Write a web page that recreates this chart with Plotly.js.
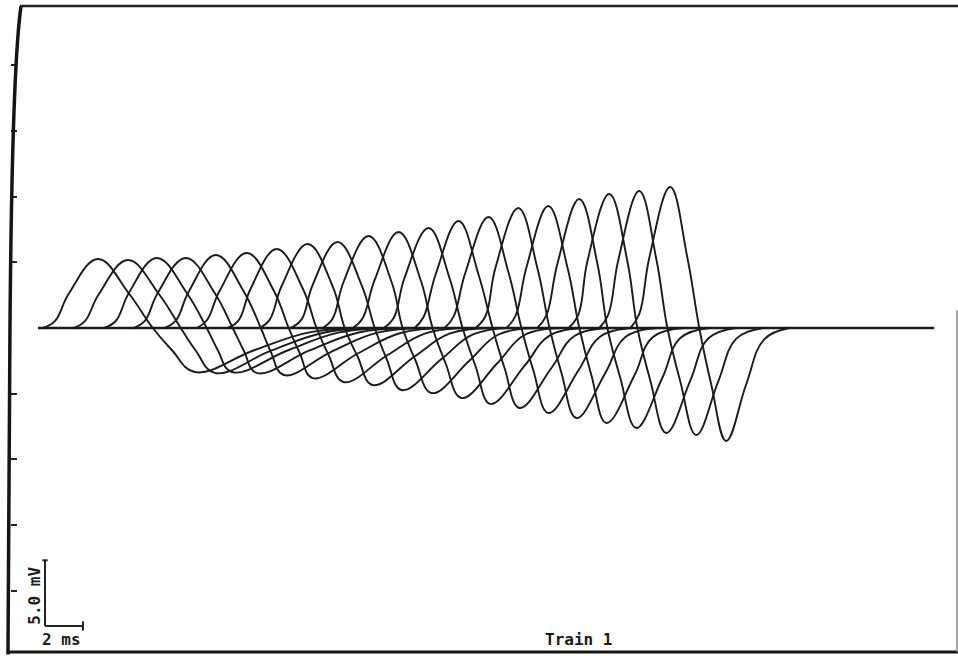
<!DOCTYPE html>
<html>
<head>
<meta charset="utf-8">
<script src="https://cdn.plot.ly/plotly-3.0.1.min.js"></script>
<style>
  html, body { margin: 0; padding: 0; background: #ffffff; }
  #chart { width: 958px; height: 656px; }
</style>
</head>
<body>
<div id="chart"></div>
<script>
// Train 1: twenty successive compound responses (time in ms, voltage in mV).
// Each response is described by its landmark times and amplitudes.

// sweep extent of the recording baseline
const sweepStart = 1.37;
const sweepEnd = 48.58;

// positive phase
const footTime   = [1.63, 3.26, 4.84, 6.42, 8.05, 9.74, 11.37, 13.05, 14.68, 16.37, 17.95, 19.58, 21.21, 22.79, 24.42, 26.05, 27.68, 29.32, 30.95, 32.58];
const rise10Time = [2.26, 3.84, 5.47, 7.00, 8.63, 10.26, 11.95, 13.58, 15.26, 16.89, 18.47, 20.11, 21.68, 23.26, 24.95, 26.53, 28.16, 29.84, 31.42, 33.05];
const rise50Time = [3.00, 4.58, 6.16, 7.68, 9.32, 10.95, 12.58, 14.21, 15.84, 17.47, 19.11, 20.68, 22.32, 23.89, 25.47, 27.11, 28.74, 30.32, 31.95, 33.58];
const peakTime   = [4.53, 6.11, 7.63, 9.16, 10.74, 12.37, 13.95, 15.58, 17.16, 18.79, 20.37, 21.95, 23.53, 25.11, 26.68, 28.26, 29.89, 31.47, 33.05, 34.68];
const peakMv     = [5.25, 5.17, 5.33, 5.33, 5.56, 5.71, 6.01, 6.39, 6.54, 7.00, 7.31, 7.61, 8.14, 8.45, 9.13, 9.28, 9.82, 10.20, 10.43, 10.73];
const fall50Time = [6.16, 7.74, 9.21, 10.68, 12.21, 13.79, 15.32, 16.89, 18.42, 20.00, 21.53, 23.05, 24.58, 26.16, 27.68, 29.26, 30.84, 32.42, 33.95, 35.58];

// crossing into the negative phase
const zeroTime   = [7.42, 8.89, 10.26, 11.63, 13.11, 14.58, 16.05, 17.53, 19.11, 20.58, 22.16, 23.74, 25.32, 26.84, 28.32, 29.89, 31.37, 32.95, 34.53, 36.21];

// negative phase
const desc50Time = [8.42, 9.68, 10.84, 12.21, 13.63, 15.16, 16.68, 18.21, 19.74, 21.26, 22.84, 24.42, 25.95, 27.47, 28.95, 30.53, 32.05, 33.63, 35.21, 36.84];
const troughTime = [9.63, 10.68, 11.58, 12.89, 14.32, 15.84, 17.47, 19.00, 20.53, 22.11, 23.68, 25.21, 26.74, 28.26, 29.74, 31.32, 32.89, 34.47, 36.05, 37.63];
const troughMv   = [-3.35, -3.42, -3.35, -3.42, -3.58, -3.81, -4.11, -4.34, -4.72, -4.95, -5.33, -5.78, -6.09, -6.47, -6.85, -7.23, -7.61, -7.99, -8.14, -8.60];
const rec50Time  = [12.79, 13.68, 14.58, 15.68, 16.84, 18.26, 19.79, 21.21, 22.63, 24.11, 25.58, 27.00, 28.42, 29.84, 31.26, 32.79, 34.26, 35.74, 37.21, 38.68];
const rec90Time  = [15.68, 16.47, 17.26, 18.26, 19.26, 20.47, 21.79, 23.05, 24.32, 25.63, 27.00, 28.32, 29.63, 31.00, 32.32, 33.74, 35.21, 36.68, 38.16, 39.63];
const endTime    = [18.84, 19.53, 20.16, 20.89, 21.79, 22.95, 24.21, 25.32, 26.53, 27.79, 29.05, 30.26, 31.53, 32.79, 34.05, 35.42, 36.79, 38.16, 39.58, 40.95];

// calibration bar
const scaleMs = 2;
const scaleMv = 5.0;

const ink = '#1b1b1b';
const traces = [];

// shared baseline of the sweep
traces.push({
  x: [sweepStart, sweepEnd],
  y: [0, 0],
  mode: 'lines',
  line: { color: ink, width: 2.4 },
  hoverinfo: 'skip'
});

for (let i = 0; i < peakTime.length; i++) {
  const p = peakMv[i];
  const n = troughMv[i];
  traces.push({
    x: [footTime[i], rise10Time[i], rise50Time[i], peakTime[i], fall50Time[i], zeroTime[i],
        desc50Time[i], troughTime[i], rec50Time[i], rec90Time[i], endTime[i]],
    y: [0, 0.1 * p, 0.5 * p, p, 0.5 * p, 0,
        0.5 * n, n, 0.5 * n, 0.1 * n, 0],
    mode: 'lines',
    line: { color: ink, width: 1.9, shape: 'spline', smoothing: 1.15 },
    hoverinfo: 'skip'
  });
}

// calibration bar corner
const barT = 1.74;
const barV = -22.68;

const shapes = [
  // chart frame
  { type: 'path', xref: 'paper', yref: 'paper',
    path: 'M -0.0032,-0.004 L -0.0011,0.4992 Q 0.0011,0.905 0.0106,1.0016',
    line: { color: '#151515', width: 3.5 } },
  { type: 'line', xref: 'paper', yref: 'paper', x0: 0.0095, x1: 1.0, y0: 1.0016, y1: 1.0016,
    line: { color: '#222', width: 2.5 } },
  { type: 'line', xref: 'paper', yref: 'paper', x0: -0.0042, x1: 1.0, y0: 0, y1: 0,
    line: { color: '#151515', width: 3 } },
  { type: 'line', xref: 'paper', yref: 'paper', x0: 0.9989, x1: 0.9989, y0: 0.53, y1: 0,
    line: { color: '#8a8a8a', width: 1.5 } },
  // calibration bar
  { type: 'line', xref: 'x', yref: 'y', x0: barT, x1: barT, y0: barV, y1: barV + scaleMv,
    line: { color: '#222', width: 2 } },
  { type: 'line', xref: 'x', yref: 'y', x0: barT - 0.14, x1: barT + 0.14, y0: barV + scaleMv, y1: barV + scaleMv,
    line: { color: '#222', width: 2 } },
  { type: 'line', xref: 'x', yref: 'y', x0: barT, x1: barT + scaleMs, y0: barV, y1: barV,
    line: { color: '#222', width: 2 } },
  { type: 'line', xref: 'x', yref: 'y', x0: barT + scaleMs, x1: barT + scaleMs, y0: barV - 0.35, y1: barV + 0.35,
    line: { color: '#222', width: 2 } }
];

const labelFont = { family: 'DejaVu Sans Mono, monospace', size: 16, color: '#1a1a1a', weight: 'bold' };

const annotations = [
  { x: barT - 0.53, y: barV + scaleMv / 2 - 0.2, xref: 'x', yref: 'y', text: scaleMv.toFixed(1) + ' mV',
    textangle: -90, showarrow: false, font: labelFont, xanchor: 'center', yanchor: 'middle' },
  { x: barT + 0.89, y: -23.74, xref: 'x', yref: 'y', text: scaleMs + ' ms',
    showarrow: false, font: labelFont, xanchor: 'center', yanchor: 'middle' },
  { x: 29.84, y: -23.74, xref: 'x', yref: 'y', text: 'Train 1',
    showarrow: false, font: labelFont, xanchor: 'center', yanchor: 'middle' }
];

const layout = {
  width: 958,
  height: 656,
  margin: { l: 11, r: 0, t: 7, b: 4 },
  paper_bgcolor: '#ffffff',
  plot_bgcolor: '#ffffff',
  showlegend: false,
  xaxis: {
    range: [-0.05, 49.84],
    showgrid: false, zeroline: false, showline: false,
    showticklabels: false, ticks: ''
  },
  yaxis: {
    range: [-24.66, 24.43],
    tickvals: [-20, -15, -10, -5, 5, 10, 15, 20],
    ticks: 'inside', ticklen: 6, tickwidth: 2, tickcolor: '#222',
    showticklabels: false, showgrid: false, zeroline: false, showline: false
  },
  shapes: shapes,
  annotations: annotations
};

Plotly.newPlot('chart', traces, layout, { staticPlot: true, displayModeBar: false });
</script>
</body>
</html>
